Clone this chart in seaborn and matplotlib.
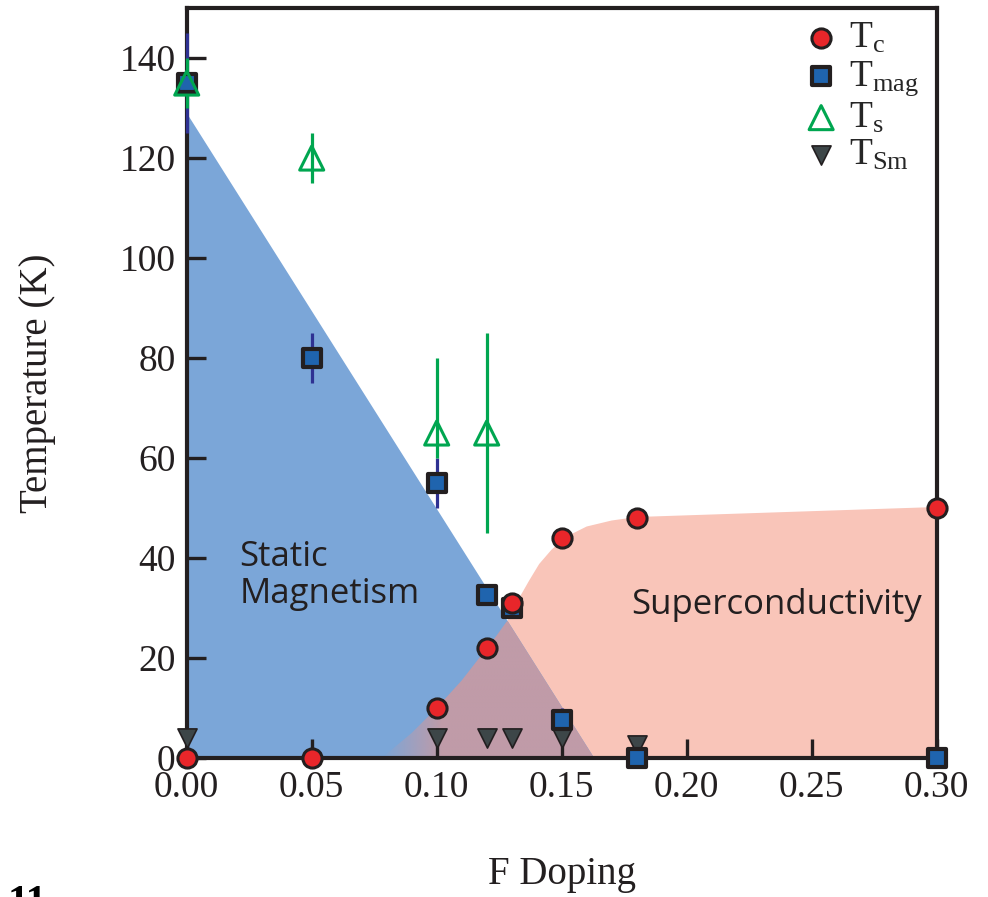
import numpy as np
import matplotlib
matplotlib.use("Agg")
import matplotlib.pyplot as plt
from matplotlib.patches import Polygon
import seaborn as sns

tc_x = [0.00, 0.05, 0.10, 0.12, 0.13, 0.15, 0.18, 0.30]
tc_T = [0, 0, 10, 22, 31, 44, 48, 50]

tmag_x = [0.00, 0.05, 0.10, 0.12, 0.13, 0.15, 0.18, 0.30]
tmag_T = [135, 80, 55, 32.5, 30, 7.5, 0, 0]
tmag_err = [10, 5, 5, 2, 2, 2.5, 0, 0]

ts_x = [0.00, 0.05, 0.10, 0.12]
ts_T = [135, 120, 65, 65]
ts_err_lo = [5, 5, 5, 20]
ts_err_hi = [5, 5, 15, 20]

tsm_x = [0.00, 0.10, 0.12, 0.13, 0.15, 0.18]
tsm_T = [4, 4, 4, 4, 4, 2.5]

# shaded regions (boundary)
mag_x = [0.0, 0.0, 0.163]
mag_T = [0, 129, 0]
sc_x = [0.078, 0.09, 0.10, 0.11, 0.117, 0.124, 0.129, 0.133, 0.137, 0.141,
        0.146, 0.152, 0.16, 0.17, 0.18, 0.30]
sc_T = [0, 5, 10, 15.5, 20, 24.5, 28, 32, 35.5, 38.8,
        41.7, 44.3, 46.3, 47.5, 48.2, 50.2]

x_ticks = [0.00, 0.05, 0.10, 0.15, 0.20, 0.25, 0.30]
y_ticks = [0, 20, 40, 60, 80, 100, 120, 140]

sns.set_theme(style="ticks")
plt.rcParams['font.family'] = ['Liberation Serif', 'DejaVu Serif']
plt.rcParams['mathtext.fontset'] = 'custom'
plt.rcParams['mathtext.rm'] = 'Liberation Serif'
plt.rcParams['mathtext.it'] = 'Liberation Serif:italic'

ink = '#231F20'
blue_fill = '#7BA6D8'
pink_fill = '#F9C5B9'
mix_fill = '#C09BA8'

fig, ax = plt.subplots(figsize=(9.88, 8.97), dpi=100)
fig.subplots_adjust(left=0.189, right=0.948, bottom=0.155, top=0.991)

# superconducting dome
sc_poly = list(zip(sc_x, sc_T)) + [(sc_x[-1], 0)]
ax.add_patch(Polygon(sc_poly, closed=True, facecolor=pink_fill, edgecolor='none', zorder=0.2))
# static magnetism triangle
ax.add_patch(Polygon(list(zip(mag_x, mag_T)), closed=True, facecolor=blue_fill, edgecolor='none', zorder=0.3))

# overlap region, fading out to the left
xx = np.linspace(sc_x[0], mag_x[-1], 200)
top_blue = np.interp(xx, [0.0, 0.163], [129, 0])
top_pink = np.interp(xx, sc_x, sc_T)
top = np.minimum(top_blue, top_pink)
ov_poly = Polygon(list(zip(xx, top)) + [(xx[-1], 0), (xx[0], 0)], closed=True,
                  facecolor='none', edgecolor='none', transform=ax.transData)
ax.add_patch(ov_poly)
gx = np.linspace(0.075, 0.165, 300)
alpha = np.clip((gx - 0.078) / 0.024, 0, 1)
rgb = matplotlib.colors.to_rgb(mix_fill)
img = np.zeros((2, len(gx), 4))
img[..., 0], img[..., 1], img[..., 2] = rgb
img[..., 3] = alpha
im = ax.imshow(img, extent=[0.075, 0.165, 0, 40], origin='lower', aspect='auto',
               interpolation='bilinear', zorder=0.4)
im.set_clip_path(ov_poly)

# error bars
ax.vlines(tmag_x, np.array(tmag_T) - np.array(tmag_err), np.array(tmag_T) + np.array(tmag_err),
          color='#2E3192', lw=2.3, zorder=3, clip_on=False)
ax.vlines(ts_x, np.array(ts_T) - np.array(ts_err_lo), np.array(ts_T) + np.array(ts_err_hi),
          color='#00A650', lw=2.3, zorder=3.5, clip_on=False)

sns.scatterplot(x=tsm_x, y=tsm_T, marker='v', s=190, color='#3D4648', edgecolor=ink,
                linewidth=1.2, zorder=5, clip_on=False, label=r'$\mathrm{T_{Sm}}$', ax=ax)
sns.scatterplot(x=tmag_x, y=tmag_T, marker='s', s=175, color='#1F64AE', edgecolor=ink,
                linewidth=3, zorder=6, clip_on=False, label=r'$\mathrm{T_{mag}}$', ax=ax)
sns.scatterplot(x=ts_x, y=ts_T, marker='^', s=300, color='#00A650', edgecolor='#00A650',
                linewidth=2.2, zorder=7, clip_on=False, label=r'$\mathrm{T_s}$', ax=ax)
ax.collections[-1].set_facecolor('none')
sns.scatterplot(x=tc_x, y=tc_T, marker='o', s=190, color='#E8262A', edgecolor=ink,
                linewidth=2.2, zorder=8, clip_on=False, label=r'$\mathrm{T_c}$', ax=ax)

handles, labels = ax.get_legend_handles_labels()
order = [3, 1, 2, 0]
ax.legend([handles[i] for i in order], [labels[i] for i in order],
          loc='upper left', bbox_to_anchor=(0.786, 1.012), frameon=False,
          fontsize=27, borderpad=0.1, handletextpad=0.15, handlelength=1.2,
          labelspacing=0.08)

ax.text(0.021, 36.5, 'Static\nMagnetism', fontsize=25, family='Open Sans', color=ink,
        ha='left', va='center', linespacing=1.15, zorder=4)
ax.text(0.236, 30.6, 'Superconductivity', fontsize=25, family='Open Sans', color=ink,
        ha='center', va='center', zorder=4)

ax.set_xlim(0, 0.30)
ax.set_ylim(0, 150)
ax.set_xticks(x_ticks)
ax.set_xticklabels([f'{v:.2f}' for v in x_ticks])
ax.set_yticks(y_ticks)
ax.tick_params(direction='in', length=14, width=2.4, color=ink, labelsize=27,
               labelcolor=ink, top=False, right=False)
ax.tick_params(axis='x', pad=9)
ax.tick_params(axis='y', pad=8)
for sp in ax.spines.values():
    sp.set_linewidth(3)
    sp.set_color(ink)
    sp.set_visible(True)

ax.set_xlabel('F Doping', fontsize=28, color=ink, labelpad=37)
ax.set_ylabel('Temperature (K)', fontsize=28, color=ink, labelpad=46)

fig.text(0.008, 0.013, '11', fontsize=30, weight='bold', va='top', color='black')

plt.savefig('out.png', dpi=100)
plt.close()
